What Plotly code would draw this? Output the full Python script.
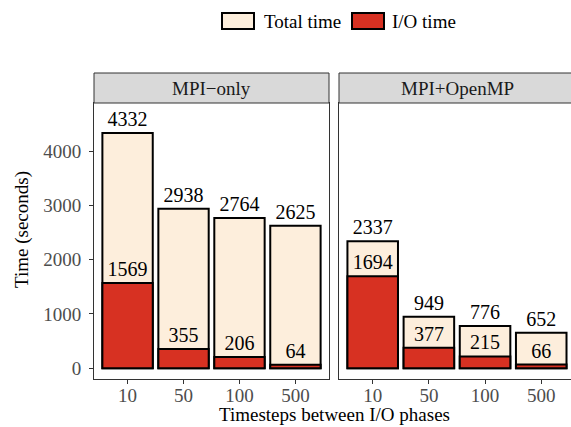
import plotly.graph_objects as go

categories = ["10", "50", "100", "500"]
panels = ["MPI\u2212only", "MPI+OpenMP"]
total_mpi = [4332, 2938, 2764, 2625]
io_mpi = [1569, 355, 206, 64]
total_omp = [2337, 949, 776, 652]
io_omp = [1694, 377, 215, 66]
y_ticks = [0, 1000, 2000, 3000, 4000]

CREAM = "#FDEEDC"
RED = "#D73122"
FONT = "Liberation Serif"
W, H = 571, 427

def px(x):
    return x / W

def py(y):
    return 1 - y / H

fig = go.Figure()
for totals, ios, xa, ya in [(total_mpi, io_mpi, "x", "y"), (total_omp, io_omp, "x2", "y2")]:
    fig.add_trace(go.Bar(x=categories, y=totals, xaxis=xa, yaxis=ya, width=0.9,
                         marker=dict(color=CREAM, line=dict(color="black", width=2)),
                         text=[str(v) for v in totals], textposition="outside",
                         textfont=dict(family=FONT, size=20, color="black"),
                         cliponaxis=False, constraintext="none", showlegend=False,
                         name="Total time"))
    fig.add_trace(go.Bar(x=categories, y=ios, xaxis=xa, yaxis=ya, width=0.9,
                         marker=dict(color=RED, line=dict(color="black", width=2)),
                         text=[str(v) for v in ios], textposition="outside",
                         textfont=dict(family=FONT, size=20, color="black"),
                         cliponaxis=False, constraintext="none", showlegend=False,
                         name="I/O time"))

ydom = [py(379), py(103)]
axis_common = dict(showline=True, mirror=True, linecolor="#333333", linewidth=1,
                   ticks="outside", ticklen=4, tickcolor="#333333",
                   tickfont=dict(family=FONT, size=19, color="#4D4D4D"),
                   showgrid=False, zeroline=False, ticklabelposition="outside")
y2_common = {k: v for k, v in axis_common.items() if k != "ticks"}
fig.update_layout(
    width=W, height=H, margin=dict(l=0, r=0, t=0, b=0, autoexpand=False),
    paper_bgcolor="white", plot_bgcolor="white", barmode="overlay",
    xaxis=dict(domain=[px(94), px(329)], type="category", range=[-0.6, 3.6],
               anchor="y", ticklabelstandoff=-5, **axis_common),
    xaxis2=dict(domain=[px(339), 1.0], type="category", range=[-0.6, 3.53],
                anchor="y2", ticklabelstandoff=-5, **axis_common),
    yaxis=dict(domain=ydom, range=[-200, 4885], tickvals=y_ticks, anchor="x",
               ticklabelstandoff=4, **axis_common),
    yaxis2=dict(domain=ydom, range=[-200, 4885], tickvals=y_ticks, anchor="x2",
                showticklabels=False, ticks="", **y2_common),
    font=dict(family=FONT, color="black"),
)

shapes = []
annotations = []
# strips
for (x0, x1, xc), label in zip([(94, 329, 211.5), (339, 580, 457)], panels):
    shapes.append(dict(type="rect", xref="paper", yref="paper", x0=px(x0), x1=px(x1),
                       y0=py(103), y1=py(73), fillcolor="#D9D9D9",
                       line=dict(color="#333333", width=1)))
    annotations.append(dict(text=label, xref="paper", yref="paper", x=px(xc), y=py(88),
                            xanchor="center", yanchor="middle", showarrow=False,
                            font=dict(family=FONT, size=19, color="#1A1A1A")))
# legend
for (kx0, kx1, tx), name, col in [((222, 254, 262), "Total time", CREAM),
                                   ((352, 384, 390), "I/O time", RED)]:
    shapes.append(dict(type="rect", xref="paper", yref="paper", x0=px(kx0), x1=px(kx1),
                       y0=py(29), y1=py(13), fillcolor=col, line=dict(color="black", width=2)))
    annotations.append(dict(text=name, xref="paper", yref="paper", x=px(tx), y=py(21),
                            xanchor="left", yanchor="middle", showarrow=False,
                            font=dict(family=FONT, size=19, color="black")))
# axis titles
annotations.append(dict(text="Timesteps between I/O phases", xref="paper", yref="paper",
                        x=px(334), y=py(426), xanchor="center", yanchor="bottom",
                        showarrow=False, borderpad=0,
                        font=dict(family=FONT, size=19, color="black")))
annotations.append(dict(text="Time (seconds)", xref="paper", yref="paper",
                        x=px(22), y=py(230), xanchor="center", yanchor="middle",
                        showarrow=False, textangle=-90,
                        font=dict(family=FONT, size=19, color="black")))
fig.update_layout(shapes=shapes, annotations=annotations)
fig.write_html("out.html", config={"displayModeBar": False})

with open("out.html", "r", encoding="utf-8") as f:
    html = f.read()
html = html.replace("<head>", "<head><style>html,body{margin:0;padding:0;overflow:hidden;}</style>", 1)
with open("out.html", "w", encoding="utf-8") as f:
    f.write(html)
